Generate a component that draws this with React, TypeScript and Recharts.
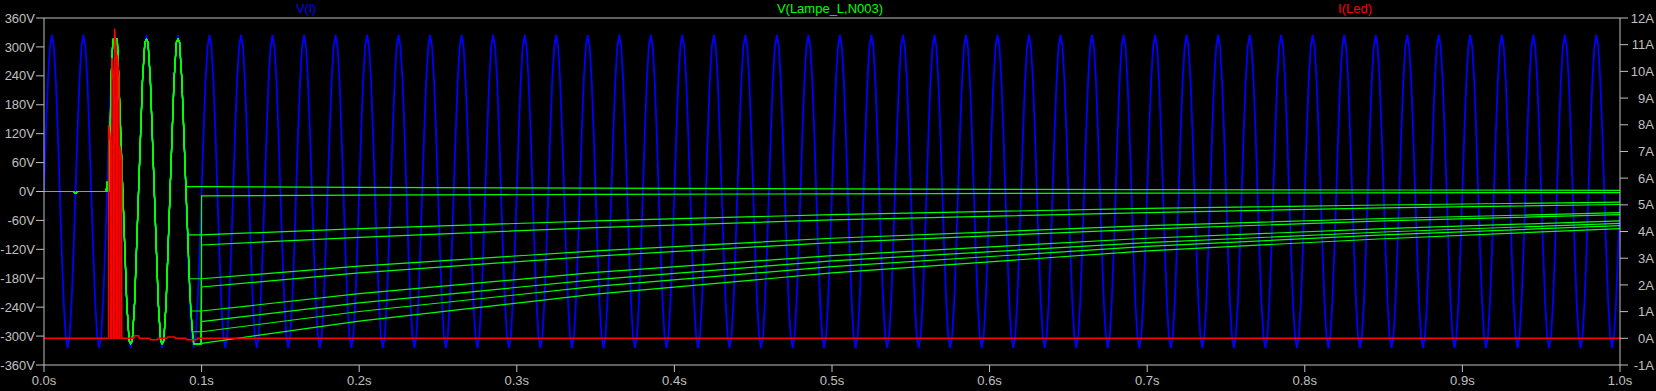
import { LineChart, Line, XAxis, YAxis, ReferenceLine } from 'recharts';

// axis ticks
const timeTicks = [0, 0.1, 0.2, 0.3, 0.4, 0.5, 0.6, 0.7, 0.8, 0.9, 1.0];
const voltTicks = [-360, -300, -240, -180, -120, -60, 0, 60, 120, 180, 240, 300, 360];
const ampTicks = [-1, 0, 1, 2, 3, 4, 5, 6, 7, 8, 9, 10, 11, 12];

// V(l): mains voltage, one period, repeated every 20ms
const mainsCycle = [0, 124, 230, 300, 325, 300, 230, 124, 0, -124, -230, -300, -325, -300, -230, -124];
const mainsPeriod = 0.02;
const mainsCycles = 50;

// V(Lampe_L,N003): part shared by all stepped runs
const lampCommon: [number, number][] = [
  [0, 0], [0.019, 0], [0.0195, -3], [0.0205, -3], [0.021, 0], [0.0395, 0], [0.04, 20], [0.0405, 0],
  [0.0415, 0], [0.0425, 230], [0.0435, 300], [0.044, 316], [0.0465, 316], [0.0475, 230],
  [0.05, 0], [0.0525, -230], [0.054, -310], [0.055, -316], [0.056, -310], [0.0575, -230],
  [0.06, 0], [0.0625, 230], [0.064, 310], [0.065, 316], [0.066, 310], [0.0675, 230],
  [0.07, 0], [0.0725, -230], [0.074, -310], [0.075, -316], [0.076, -310], [0.0775, -230],
  [0.08, 0], [0.0825, 230], [0.084, 310], [0.085, 316], [0.086, 310], [0.0875, 230],
];
// falling edge where the runs split off
const lampFall: [number, number][] = [[0.09, 10], [0.0912, -90], [0.0922, -181], [0.0932, -248], [0.0942, -291], [0.095, -316]];
// index on the falling edge where a run stops (-1 = goes through the trough and jumps back)
const lampBranch = [0, -1, 1, -1, 2, -1, 3, -1, 4, 5];
// hold voltages of each run after the split
const holdTimes = [0.1, 0.2, 0.35, 0.5, 0.7, 0.85, 1.0];
const lampHold: number[][] = [
  [10, 8.6, 6.8, 5.4, 3.9, 3.1, 2.5],
  [-9, -7.7, -6.1, -4.8, -3.5, -2.8, -2.2],
  [-90, -77, -61, -48, -35, -28, -22],
  [-111, -95, -75, -59, -44, -34, -27],
  [-181, -155, -123, -97, -71, -56, -44],
  [-198, -169, -134, -106, -78, -61, -48],
  [-248, -212, -168, -133, -97, -77, -61],
  [-270, -231, -183, -144, -106, -84, -66],
  [-291, -249, -197, -156, -114, -90, -71],
  [-315, -269, -213, -169, -123, -98, -77],
];

// I(Led): inrush bursts
const ledStart = [0.0410, 0.0431, 0.0448, 0.0465, 0.0482];
const ledEnd = [0.0423, 0.0442, 0.0459, 0.0476, 0.0493];
const ledPeak = [8, 10.5, 11.6, 10.6, 7.2];
const ledTail: [number, number][] = [
  [0.05, 0], [0.057, 0], [0.0575, 0.1], [0.06, 0.1], [0.0605, 0], [0.067, 0], [0.0675, -0.05],
  [0.072, -0.05], [0.0725, 0], [0.078, 0], [0.0785, 0.05], [0.083, 0.05], [0.0835, 0], [0.09, 0],
  [0.0905, -0.05], [0.097, -0.05], [0.0975, 0], [1.0, 0],
];

const mainsData: { t: number; v: number }[] = [];
for (let c = 0; c < mainsCycles; c++) {
  mainsCycle.forEach((v, i) => {
    mainsData.push({ t: c * mainsPeriod + (i * mainsPeriod) / mainsCycle.length, v });
  });
}
mainsData.push({ t: 1.0, v: 0 });

const lampRuns = lampHold.map((hold, r) => {
  const b = lampBranch[r];
  const pts: [number, number][] = [...lampCommon];
  if (b >= 0) {
    pts.push(...lampFall.slice(0, b + 1));
  } else {
    pts.push(...lampFall, [0.0997, -316]);
  }
  hold.forEach((v, i) => pts.push([holdTimes[i], v]));
  return pts.map(([t, v]) => ({ t, v }));
});

const ledData: { t: number; i: number }[] = [{ t: 0, i: 0 }];
ledStart.forEach((t0, k) => {
  ledData.push({ t: t0, i: 0 }, { t: t0, i: ledPeak[k] }, { t: ledEnd[k], i: ledPeak[k] * 0.92 }, { t: ledEnd[k], i: 0 });
});
ledTail.forEach(([t, i]) => ledData.push({ t, i }));

const AXIS = '#c0c0c0';
const FONT = '"Liberation Sans", Arial, sans-serif';

const AmpTick = (props: any) => {
  const { y, payload } = props;
  return (
    <text x={1654} y={y} dy="0.355em" textAnchor="end" fill={AXIS} fontSize={13} fontFamily={FONT}>
      {payload.value}A
    </text>
  );
};

const titleStyle = (left: number, color: string): React.CSSProperties => ({
  position: 'absolute',
  top: 1,
  left,
  transform: 'translateX(-50%)',
  color,
  fontSize: 13,
  fontFamily: FONT,
  whiteSpace: 'nowrap',
});

export default function App() {
  return (
    <div style={{ position: 'relative', width: 1656, height: 391, background: '#000' }}>
      <style>{`body{margin:0;background:#000}`}</style>
      <LineChart width={1656} height={391} margin={{ top: 18, right: 0, bottom: 0, left: 0 }}>
        <XAxis
          dataKey="t"
          type="number"
          domain={[0, 1]}
          ticks={timeTicks}
          interval={0}
          allowDataOverflow
          height={26}
          stroke={AXIS}
          tickSize={7}
          tickMargin={4}
          tickFormatter={(v: number) => v.toFixed(1) + 's'}
          tick={{ fill: AXIS, fontSize: 13, fontFamily: FONT }}
        />
        <YAxis
          yAxisId="v"
          type="number"
          domain={[-360, 360]}
          ticks={voltTicks}
          interval={0}
          allowDataOverflow
          width={44}
          stroke={AXIS}
          tickSize={8}
          tickMargin={1}
          tickFormatter={(v: number) => v + 'V'}
          tick={{ fill: AXIS, fontSize: 13, fontFamily: FONT }}
        />
        <YAxis
          yAxisId="a"
          orientation="right"
          type="number"
          domain={[-1, 12]}
          ticks={ampTicks}
          interval={0}
          allowDataOverflow
          width={36}
          stroke={AXIS}
          tickSize={8}
          tick={<AmpTick />}
        />
        <ReferenceLine yAxisId="v" y={360} stroke={AXIS} />
        <Line
          yAxisId="v"
          data={mainsData}
          dataKey="v"
          type="linear"
          stroke="#0000ff"
          strokeWidth={1.8}
          dot={false}
          isAnimationActive={false}
        />
        {lampRuns.map((run, r) => (
          <Line
            key={r}
            yAxisId="v"
            data={run}
            dataKey="v"
            type="linear"
            stroke="#00ff00"
            strokeWidth={1.2}
            dot={false}
            isAnimationActive={false}
          />
        ))}
        <Line
          yAxisId="a"
          data={ledData}
          dataKey="i"
          type="linear"
          stroke="#ff0000"
          strokeWidth={1.5}
          dot={false}
          isAnimationActive={false}
        />
      </LineChart>
      <div style={titleStyle(306, '#0000ff')}>V(l)</div>
      <div style={titleStyle(830, '#00ff00')}>V(Lampe_L,N003)</div>
      <div style={titleStyle(1355, '#ff0000')}>I(Led)</div>
    </div>
  );
}
